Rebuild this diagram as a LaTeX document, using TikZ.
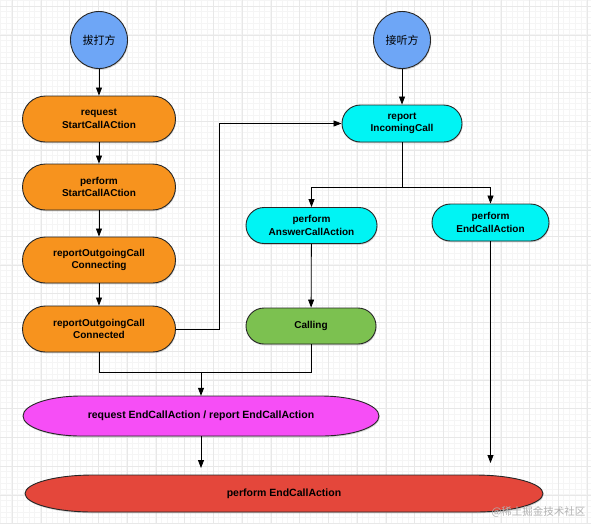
\documentclass[tikz,border=0pt]{standalone}
\usepackage{fontspec}
\setmainfont{Liberation Sans}
\newfontfamily\cjkfont{Noto Sans CJK SC}
\usetikzlibrary{shapes.geometric,shadows,arrows.meta}

\definecolor{partyblue}{HTML}{6EA6F6}
\definecolor{stepor}{HTML}{F7931E}
\definecolor{stepcy}{HTML}{00F4F4}
\definecolor{stepgr}{HTML}{7CC150}
\definecolor{endmag}{HTML}{F64EF6}
\definecolor{endred}{HTML}{E4473B}

\tikzset{
  shade/.style={drop shadow={shadow xshift=0.6pt, shadow yshift=-1.3pt, opacity=0.35}},
  party/.style={circle, draw=black!85, line width=0.9pt, fill=partyblue, minimum size=57pt, inner sep=0pt, font=\cjkfont\fontsize{11}{12}\selectfont, shade},
  pill/.style={rectangle, draw=black!85, line width=0.9pt, rounded corners=#1, inner sep=0pt, align=center, font=\bfseries\fontsize{10}{12.5}\selectfont, shade},
  oval/.style={ellipse, inner sep=0pt, font=\bfseries\fontsize{10.5}{12}\selectfont},
  arr/.style={-{Triangle[length=8pt,width=6pt]}, line width=0.8pt},
  link/.style={line width=0.8pt},
  minorline/.style={black!4, line width=0.4pt},
  majorline/.style={black!9, line width=0.5pt}
}

% flat oval: centre x, centre y, half width, half height, end radius, fill
\newcommand{\flatoval}[6]{%
  \filldraw[fill=#6, draw=black!85, line width=0.9pt, shade]
    ({#1-#3+#5},{#2-#4}) -- ({#1+#3-#5},{#2-#4})
    .. controls ({#1+#3-0.45*#5},{#2-#4}) and ({#1+#3},{#2-0.55*#4}) .. ({#1+#3},#2)
    .. controls ({#1+#3},{#2+0.55*#4}) and ({#1+#3-0.45*#5},{#2+#4}) .. ({#1+#3-#5},{#2+#4})
    -- ({#1-#3+#5},{#2+#4})
    .. controls ({#1-#3+0.45*#5},{#2+#4}) and ({#1-#3},{#2+0.55*#4}) .. ({#1-#3},#2)
    .. controls ({#1-#3},{#2-0.55*#4}) and ({#1-#3+0.45*#5},{#2-#4}) .. cycle;}

\begin{document}
\begin{tikzpicture}[x=1pt, y=-1pt]
  \useasboundingbox (0,0) rectangle (591,523);
  % background grid
  \fill[white] (0,0) rectangle (591,523);
  \foreach \i in {0,...,103} \draw[minorline] (\i*5.75,0) -- (\i*5.75,523);
  \foreach \j in {0,...,91} \draw[minorline] (0,\j*5.75) -- (591,\j*5.75);
  \foreach \i in {0,...,20} \draw[majorline] (\i*28.75+12,0) -- (\i*28.75+12,523);
  \foreach \j in {0,...,18} \draw[majorline] (0,\j*28.75+6) -- (591,\j*28.75+6);

  % caller side
  \node[party] (caller) at (99,40) {拔打方};
  \node[pill=23pt, fill=stepor, minimum width=153pt, minimum height=46pt] (reqStart) at (99,119) {request\\StartCallACtion};
  \node[pill=23pt, fill=stepor, minimum width=153pt, minimum height=46pt] (perfStart) at (99,187) {perform\\StartCallACtion};
  \node[pill=23pt, fill=stepor, minimum width=153pt, minimum height=46pt] (connecting) at (99,260) {reportOutgoingCall\\Connecting};
  \node[pill=23pt, fill=stepor, minimum width=153pt, minimum height=46pt] (connected) at (99,329) {reportOutgoingCall\\Connected};

  % callee side
  \node[party] (callee) at (402,40) {接听方};
  \node[pill=18.5pt, fill=stepcy, minimum width=120pt, minimum height=37pt] (incoming) at (402,123.5) {report\\IncomingCall};
  \node[pill=18pt, fill=stepcy, minimum width=131pt, minimum height=36pt] (answer) at (311.5,225.5) {perform\\AnswerCallAction};
  \node[pill=18.5pt, fill=stepcy, minimum width=117pt, minimum height=37pt] (endPerf) at (490.5,222.5) {perform\\EndCallAction};
  \node[pill=18pt, fill=stepgr, minimum width=130pt, minimum height=36pt] (calling) at (311,326) {Calling};

  % ending
  \flatoval{201}{416}{178}{20}{58}{endmag}
  \flatoval{284}{493.5}{259}{18.5}{68}{endred}
  \node[oval, minimum width=356pt, minimum height=40pt] (endReq) at (201,416) {request EndCallAction / report EndCallAction};
  \node[oval, minimum width=518pt, minimum height=37pt] (endAll) at (284,493.5) {perform EndCallAction};

  % connectors
  \draw[arr] (caller) -- (reqStart);
  \draw[arr] (reqStart) -- (perfStart);
  \draw[arr] (perfStart) -- (connecting);
  \draw[arr] (connecting) -- (connected);
  \draw[arr] (connected.east) -- ++(43,0) |- (incoming.west);
  \draw[arr] (callee) -- (incoming);
  \draw[link] (incoming.south) -- ++(0,45) coordinate (split);
  \draw[arr] (split) -| (answer.north);
  \draw[arr] (split) -| (endPerf.north);
  \draw[arr] (answer) -- (calling);
  \draw[link] (connected.south) -- ++(0,20) coordinate (joinL) -| (calling.south);
  \coordinate (join) at (endReq.north |- joinL);
  \draw[arr] (join) -- (endReq.north);
  \coordinate (tipMid) at (201,468);
  \coordinate (tipRight) at (490.5,463);
  \draw[arr] (endReq.south) -- (tipMid);
  \draw[arr] (endPerf.south) -- (tipRight);

  \node[anchor=east, text=black!30, font=\cjkfont\fontsize{10.5}{12}\selectfont] (mark) at (589,512) {@稀土掘金技术社区};
\end{tikzpicture}
\end{document}
